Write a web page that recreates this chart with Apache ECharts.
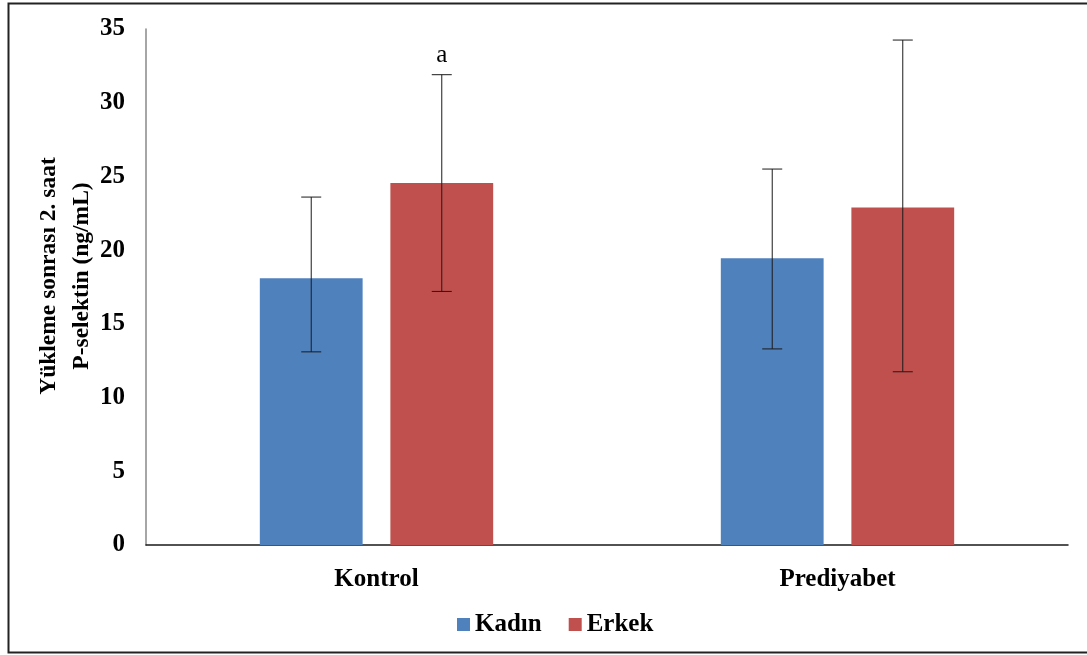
<!DOCTYPE html>
<html>
<head>
<meta charset="utf-8">
<script src="https://cdn.jsdelivr.net/npm/echarts@6/dist/echarts.min.js"></script>
<style>
  html, body { margin: 0; padding: 0; background: #fff; }
  #chart { width: 1087px; height: 655px; }
</style>
</head>
<body>
<div id="chart"></div>
<script>
// Groups and series values (ng/mL)
const categories = ['Kontrol', 'Prediyabet'];
const seriesNames = ['Kadın', 'Erkek'];
const kadin = [18.1, 19.45];
const erkek = [24.55, 22.9];
// Error bar ranges [low, high]
const kadinErr = [[13.1, 23.6], [13.3, 25.5]];
const erkekErr = [[17.2, 31.9], [11.75, 34.25]];
// Significance letters above the error bars
const kadinMarks = ['', ''];
const erkekMarks = ['a', ''];
const yTicks = { min: 0, max: 35, interval: 5 };

const FONT = "'Liberation Serif', 'Times New Roman', serif";
const BAR_WIDTH = 0.223;   // fraction of category band
const BAR_GAP = 0.27;      // fraction of bar width
const offset = BAR_WIDTH * (1 + BAR_GAP) / 2;

function errorSeries(name, ranges, marks, side) {
  return {
    type: 'custom',
    name: name + ' hata',
    z: 5,
    silent: true,
    data: ranges.map((r, i) => [i, r[0], r[1], marks[i]]),
    renderItem: function (params, api) {
      const idx = api.value(0);
      const lo = api.coord([idx, api.value(1)]);
      const hi = api.coord([idx, api.value(2)]);
      const band = api.size([1, 0])[0];
      const x = lo[0] + side * offset * band;
      const cap = 10;
      const style = { stroke: '#1a1a1a', lineWidth: 1 };
      const children = [
        { type: 'line', shape: { x1: x, y1: hi[1], x2: x, y2: lo[1] }, style },
        { type: 'line', shape: { x1: x - cap, y1: hi[1], x2: x + cap, y2: hi[1] }, style },
        { type: 'line', shape: { x1: x - cap, y1: lo[1], x2: x + cap, y2: lo[1] }, style }
      ];
      const mark = api.value(3);
      if (mark) {
        children.push({
          type: 'text',
          style: {
            text: mark, x: x, y: hi[1] - 19,
            align: 'center', verticalAlign: 'middle',
            font: 'normal 25px ' + FONT, fill: '#000'
          }
        });
      }
      return { type: 'group', children };
    }
  };
}

const chart = echarts.init(document.getElementById('chart'), null, { renderer: 'canvas' });
chart.setOption({
  animation: false,
  backgroundColor: '#fff',
  color: ['#4F81BD', '#C0504D'],
  grid: { left: 146, right: 19, top: 29, bottom: 110, containLabel: false },
  legend: {
    data: seriesNames,
    left: 452,
    top: 607,
    itemWidth: 13,
    itemHeight: 13,
    itemGap: 27,
    icon: 'rect',
    textStyle: { fontFamily: FONT, fontWeight: 'bold', fontSize: 25, color: '#000' }
  },
  xAxis: {
    type: 'category',
    data: categories,
    axisLine: { lineStyle: { color: '#1a1a1a', width: 1.5 } },
    axisTick: { show: false },
    axisLabel: { margin: 22, fontFamily: FONT, fontWeight: 'bold', fontSize: 25, color: '#000' },
    splitLine: { show: false }
  },
  yAxis: {
    type: 'value',
    min: yTicks.min,
    max: yTicks.max,
    interval: yTicks.interval,
    axisLine: { show: true, lineStyle: { color: '#888', width: 1.5 } },
    axisTick: { show: false },
    axisLabel: { margin: 21, fontFamily: FONT, fontWeight: 'bold', fontSize: 25, color: '#000' },
    splitLine: { show: false }
  },
  graphic: [
    {
      type: 'text',
      x: 65, y: 276,
      rotation: Math.PI / 2,
      style: {
        text: 'Yükleme sonrası 2. saat\nP-selektin (ng/mL)',
        align: 'center', verticalAlign: 'middle',
        lineHeight: 33,
        font: 'bold 23.5px ' + FONT, fill: '#000'
      }
    },
    {
      type: 'rect',
      shape: { x: 8.5, y: 3.5, width: 1100, height: 649 },
      style: { fill: 'none', stroke: '#222', lineWidth: 2 },
      silent: true
    }
  ],
  series: [
    { name: seriesNames[0], type: 'bar', data: kadin, barWidth: (BAR_WIDTH * 100) + '%', barGap: (BAR_GAP * 100) + '%' },
    { name: seriesNames[1], type: 'bar', data: erkek, barWidth: (BAR_WIDTH * 100) + '%', barGap: (BAR_GAP * 100) + '%' },
    errorSeries(seriesNames[0], kadinErr, kadinMarks, -1),
    errorSeries(seriesNames[1], erkekErr, erkekMarks, 1)
  ]
});
</script>
</body>
</html>
